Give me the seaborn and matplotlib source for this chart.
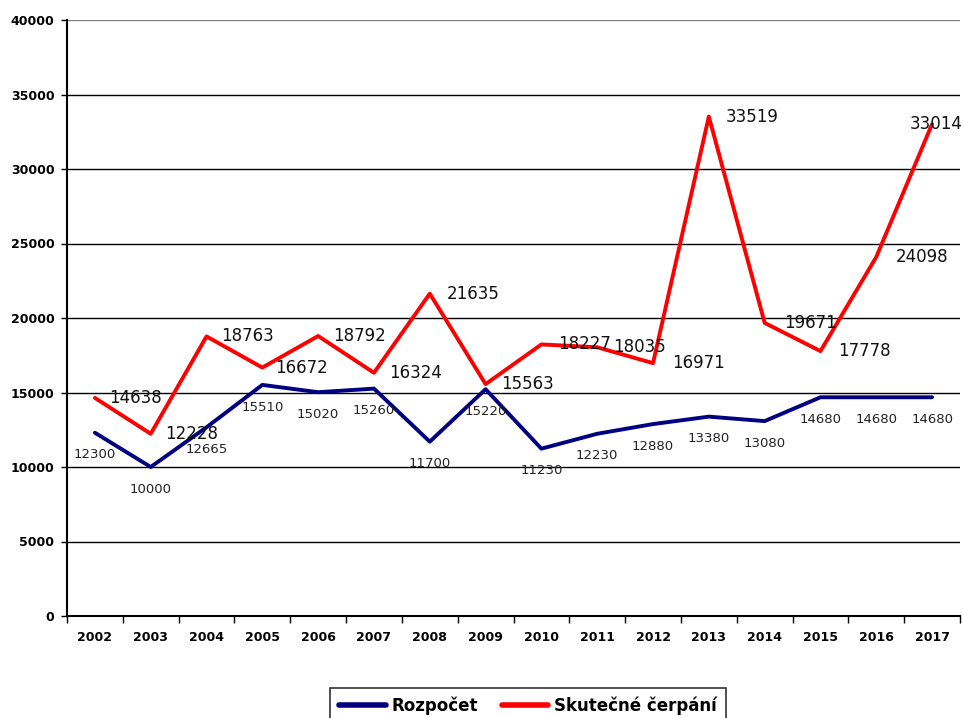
import matplotlib
matplotlib.use("Agg")
import matplotlib.pyplot as plt
import seaborn as sns
import pandas as pd
import numpy as np

# ---- data ----
years = ["2002", "2003", "2004", "2005", "2006", "2007", "2008", "2009",
         "2010", "2011", "2012", "2013", "2014", "2015", "2016", "2017"]
rozpocet = [12300, 10000, 12665, 15510, 15020, 15260, 11700, 15220,
            11230, 12230, 12880, 13380, 13080, 14680, 14680, 14680]
cerpani = [14638, 12228, 18763, 16672, 18792, 16324, 21635, 15563,
           18227, 18035, 16971, 33519, 19671, 17778, 24098, 33014]
series_names = ["Rozpočet", "Skutečné čerpání"]
y_ticks = [0, 5000, 10000, 15000, 20000, 25000, 30000, 35000, 40000]

# label horizontal offsets (pixels) for the red series labels
red_label_dx = [14, 14, 15, 13, 15, 15, 17, 16, 17, 16, 19, 17, 19, 18, 19, -22]

sns.set_theme(style="white")
plt.rcParams["font.family"] = ["DejaVu Sans"]

df = pd.DataFrame({
    "rok": years * 2,
    "hodnota": rozpocet + cerpani,
    "serie": [series_names[0]] * len(years) + [series_names[1]] * len(years),
})

fig = plt.figure(figsize=(9.63, 7.18), dpi=100)
ax = fig.add_axes([67 / 963, (718 - 616) / 718, (960 - 67) / 963, (616 - 20) / 718])

palette = {series_names[0]: "#000080", series_names[1]: "#FF0000"}
sns.lineplot(data=df, x="rok", y="hodnota", hue="serie", palette=palette,
             linewidth=2.8, sort=False, ax=ax)

ax.set_xlim(-0.5, len(years) - 0.5)
ax.set_ylim(0, 40000)
ax.set_xlabel("")
ax.set_ylabel("")

# x ticks: labels at centers, tick marks at category boundaries
ax.set_xticks(range(len(years)))
ax.set_xticklabels(years, fontsize=9, fontweight="bold", color="black")
ax.set_xticks(np.arange(-0.5, len(years), 1), minor=True)
ax.tick_params(axis="x", which="major", length=0, pad=11)
ax.tick_params(axis="x", which="minor", length=5, width=1, color="black",
               direction="out", bottom=True)

ax.set_yticks(y_ticks)
ax.set_yticklabels([str(t) for t in y_ticks], fontsize=9, fontweight="bold", color="black")
ax.tick_params(axis="y", which="major", length=4, width=1, color="black",
               direction="out", left=True, pad=5)

ax.yaxis.grid(True, color="black", linewidth=1)
ax.set_axisbelow(True)
gl = ax.get_ygridlines()
gl[-1].set_color("#808080")

for s in ["top", "right"]:
    ax.spines[s].set_visible(False)
for s in ["left", "bottom"]:
    ax.spines[s].set_color("black")
    ax.spines[s].set_linewidth(1.5)

# data labels
for i, v in enumerate(rozpocet):
    ax.annotate(str(v), (i, v), xytext=(0, -16), textcoords="offset points",
                ha="center", va="center", fontsize=9.5, color="#222222")
for i, v in enumerate(cerpani):
    ax.annotate(str(v), (i, v), xytext=(red_label_dx[i] * 0.72, 0), textcoords="offset points",
                ha="left", va="center", fontsize=12, color="#111111")

# legend
handles, labels = ax.get_legend_handles_labels()
if ax.get_legend() is not None:
    ax.get_legend().remove()
leg = fig.legend(handles, labels, loc="center", bbox_to_anchor=(528 / 963, 1 - 706 / 718),
                 ncol=2, frameon=True, fancybox=False, edgecolor="black",
                 prop={"weight": "bold", "size": 12}, handlelength=2.8,
                 handletextpad=0.35, columnspacing=1.4, borderpad=0.55, borderaxespad=0,
                 labelcolor="black")
leg.get_frame().set_linewidth(1.2)
for lh in leg.get_lines():
    lh.set_linewidth(4)

fig.savefig("out.png", dpi=100)
